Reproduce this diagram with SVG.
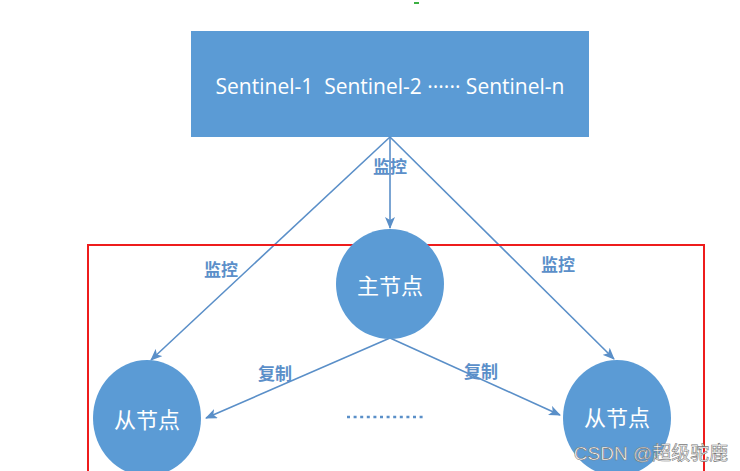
<svg xmlns="http://www.w3.org/2000/svg" width="740" height="471" viewBox="0 0 740 471">
<style>
.node{fill:#5B9BD5}
.ntext{fill:#ffffff;font-family:"Noto Sans CJK SC","Liberation Sans",sans-serif;font-size:22px;text-anchor:middle;dominant-baseline:central}
.lbl{fill:#5B8FC9;font-family:"Noto Sans CJK SC",sans-serif;font-size:17px;text-anchor:middle;dominant-baseline:central;font-weight:bold}
.conn{stroke:#5A8FC8;stroke-width:1.6;fill:none;marker-end:url(#ah)}
</style>
<defs>
<marker id="ah" markerWidth="12" markerHeight="10" refX="11" refY="5" orient="auto" markerUnits="userSpaceOnUse">
<path d="M0,0 L12,5 L0,10 L3,5 Z" fill="#5A8FC8"/>
</marker>
</defs>
<rect width="740" height="471" fill="#ffffff"/>
<rect x="414" y="2" width="5" height="2" fill="#3cb043"/>
<g id="sentinels">
<rect class="node" x="191" y="31" width="398" height="106"/>
<text x="390" y="86" xml:space="preserve" fill="#ffffff" font-family="'Open Sans','Liberation Sans',sans-serif" font-size="21" text-anchor="middle" dominant-baseline="central">Sentinel-1  Sentinel-2 ······ Sentinel-n</text>
</g>
<g id="connectors">
<line class="conn" x1="390" y1="137" x2="390" y2="228"/>
<line class="conn" x1="390" y1="137" x2="151" y2="360"/>
<line class="conn" x1="390" y1="137" x2="614" y2="359"/>
<line class="conn" x1="390" y1="338" x2="206" y2="418"/>
<line class="conn" x1="390" y1="338" x2="560" y2="415"/>
</g>
<g id="labels">
<text class="lbl" x="390" y="165">监控</text>
<text class="lbl" x="221" y="268">监控</text>
<text class="lbl" x="558" y="263">监控</text>
<text class="lbl" x="275" y="372">复制</text>
<text class="lbl" x="481" y="370">复制</text>
</g>
<rect x="88" y="245" width="616" height="240" fill="none" stroke="#ee1c1c" stroke-width="2"/>
<g id="master">
<ellipse class="node" cx="390" cy="284" rx="54" ry="55"/>
<text class="ntext" x="390" y="284">主节点</text>
</g>
<g id="slave1">
<ellipse class="node" cx="147" cy="418" rx="54" ry="58"/>
<text class="ntext" x="147" y="418">从节点</text>
</g>
<g id="slave2">
<ellipse class="node" cx="617" cy="418" rx="54" ry="58"/>
<text class="ntext" x="617" y="416">从节点</text>
</g>
<g id="dots">
<line x1="347" y1="417" x2="425" y2="417" stroke="#5A8FC8" stroke-width="2.5" stroke-dasharray="3,3.6"/>
</g>
<text x="651" y="453" fill="#ffffff" stroke="#777777" stroke-width="0.6" font-family="'Liberation Sans','Noto Sans CJK SC',sans-serif" font-size="19" text-anchor="middle" dominant-baseline="central">CSDN @超级驼鹿</text>
</svg>
